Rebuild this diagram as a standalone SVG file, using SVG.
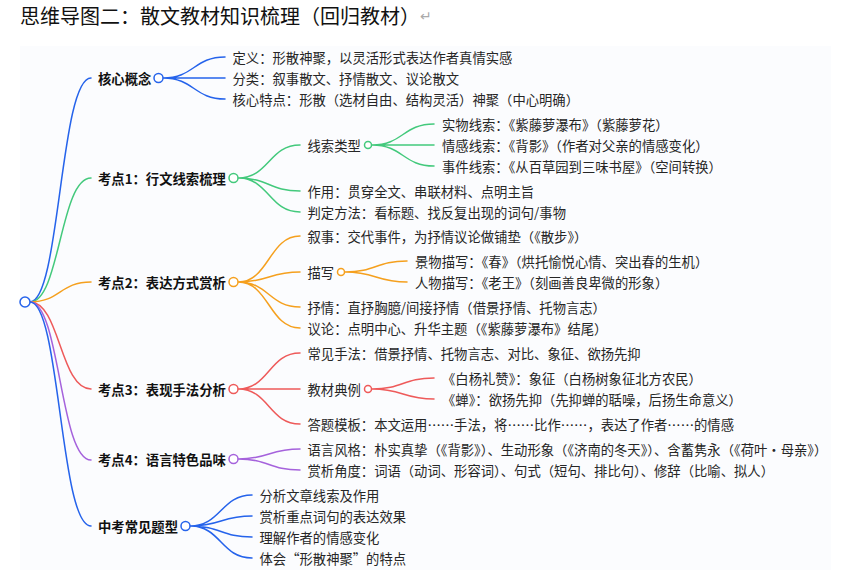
<svg xmlns="http://www.w3.org/2000/svg" width="855" height="580" viewBox="0 0 855 580">
<style>
text{font-family:"Noto Sans CJK SC","Noto Sans",sans-serif;font-size:13.33px;fill:#262626}
.t{font-size:20px;fill:#111}
.r{font-family:"DejaVu Sans",sans-serif;font-size:14px;fill:#aaa}
.b{font-weight:700;fill:#111}
path{fill:none;stroke-width:1.5;stroke-linecap:round}
circle{fill:#fff;stroke-width:1.5}
.bl{stroke:#2563eb}.gr{stroke:#43c97c}.or{stroke:#f5a01e}.re{stroke:#ee5a5a}.pu{stroke:#a562dc}
</style>
<rect x="20" y="46" width="811" height="524" fill="#fbfcfe"/>
<g id="title"><text class="t" x="20" y="24">思维导图二：散文教材知识梳理（回归教材）</text><text class="r" x="420" y="21">↵</text></g>
<g id="connectors">
<path class="bl" d="M30 302C60 302 60 78 91 78"/>
<path class="gr" d="M30 302C60 302 60 178 91 178"/>
<path class="or" d="M30 302C60 302 60 282 91 282"/>
<path class="re" d="M30 302C60 302 60 389 91 389"/>
<path class="pu" d="M30 302C60 302 60 460 91 460"/>
<path class="bl" d="M30 302C60 302 60 526 91 526"/>
<path class="bl" d="M163 78C194 78 194 57 225 57M163 78H225M163 78C194 78 194 99 225 99"/>
<path class="gr" d="M238 178C269 178 269 145 300 145M238 178C269 178 269 191 300 191M238 178C269 178 269 212 300 212"/>
<path class="gr" d="M372 145C403 145 403 124 434 124M372 145H434M372 145C403 145 403 166 434 166"/>
<path class="or" d="M238 282C269 282 269 236 300 236M238 282C269 282 269 272 300 272M238 282C269 282 269 307 300 307M238 282C269 282 269 328 300 328"/>
<path class="or" d="M345 272C376 272 376 261 407 261M345 272C376 272 376 282 407 282"/>
<path class="re" d="M238 389C269 389 269 353 300 353M238 389H300M238 389C269 389 269 424 300 424"/>
<path class="re" d="M372 389C403 389 403 378 434 378M372 389C403 389 403 399 434 399"/>
<path class="pu" d="M238 459C269 459 269 449 300 449M238 459C269 459 269 470 300 470"/>
<path class="bl" d="M190 526C221 526 221 495 252 495M190 526C221 526 221 516 252 516M190 526C221 526 221 537 252 537M190 526C221 526 221 558 252 558"/>
</g>
<g id="root"><circle class="bl" cx="25" cy="302" r="5"/></g>
<g id="n-core"><circle class="bl" cx="158.500" cy="78" r="4.500"/><text class="b" x="98" y="84">核心概念</text></g>
<g id="n-core-1"><text x="232.500" y="63">定义：形散神聚，以灵活形式表达作者真情实感</text></g>
<g id="n-core-2"><text x="232.500" y="84">分类：叙事散文、抒情散文、议论散文</text></g>
<g id="n-core-3"><text x="232.500" y="105">核心特点：形散（选材自由、结构灵活）神聚（中心明确）</text></g>
<g id="n-1"><circle class="gr" cx="233.500" cy="178" r="4.500"/><text class="b" x="98" y="184">考点1：行文线索梳理</text></g>
<g id="n-1-1"><circle class="gr" cx="368" cy="145" r="3.500"/><text x="307.500" y="151">线索类型</text></g>
<g id="n-1-1-1"><text x="442" y="130">实物线索：《紫藤萝瀑布》（紫藤萝花）</text></g>
<g id="n-1-1-2"><text x="442" y="151">情感线索：《背影》（作者对父亲的情感变化）</text></g>
<g id="n-1-1-3"><text x="442" y="171.500">事件线索：《从百草园到三味书屋》（空间转换）</text></g>
<g id="n-1-2"><text x="307.500" y="196.500">作用：贯穿全文、串联材料、点明主旨</text></g>
<g id="n-1-3"><text x="307.500" y="217.500">判定方法：看标题、找反复出现的词句/事物</text></g>
<g id="n-2"><circle class="or" cx="233.500" cy="282" r="4.500"/><text class="b" x="98" y="288">考点2：表达方式赏析</text></g>
<g id="n-2-1"><text x="307.500" y="242">叙事：交代事件，为抒情议论做铺垫（《散步》）</text></g>
<g id="n-2-2"><circle class="or" cx="341" cy="272" r="3.500"/><text x="307.500" y="278">描写</text></g>
<g id="n-2-2-1"><text x="415" y="267">景物描写：《春》（烘托愉悦心情、突出春的生机）</text></g>
<g id="n-2-2-2"><text x="415" y="288">人物描写：《老王》（刻画善良卑微的形象）</text></g>
<g id="n-2-3"><text x="307.500" y="313">抒情：直抒胸臆/间接抒情（借景抒情、托物言志）</text></g>
<g id="n-2-4"><text x="307.500" y="334">议论：点明中心、升华主题（《紫藤萝瀑布》结尾）</text></g>
<g id="n-3"><circle class="re" cx="233.500" cy="389" r="4.500"/><text class="b" x="98" y="395">考点3：表现手法分析</text></g>
<g id="n-3-1"><text x="307.500" y="359">常见手法：借景抒情、托物言志、对比、象征、欲扬先抑</text></g>
<g id="n-3-2"><circle class="re" cx="368" cy="389" r="3.500"/><text x="307.500" y="395">教材典例</text></g>
<g id="n-3-2-1"><text x="442" y="384">《白杨礼赞》：象征（白杨树象征北方农民）</text></g>
<g id="n-3-2-2"><text x="442" y="405">《蝉》：欲扬先抑（先抑蝉的聒噪，后扬生命意义）</text></g>
<g id="n-3-3"><text x="307.500" y="430">答题模板：本文运用……手法，将……比作……，表达了作者……的情感</text></g>
<g id="n-4"><circle class="pu" cx="233.500" cy="459" r="4.500"/><text class="b" x="98" y="465">考点4：语言特色品味</text></g>
<g id="n-4-1"><text x="307.500" y="455">语言风格：朴实真挚（《背影》）、生动形象（《济南的冬天》）、含蓄隽永（《荷叶・母亲》）</text></g>
<g id="n-4-2"><text x="307.500" y="476">赏析角度：词语（动词、形容词）、句式（短句、排比句）、修辞（比喻、拟人）</text></g>
<g id="n-5"><circle class="bl" cx="185.500" cy="526" r="4.500"/><text class="b" x="98" y="531.500">中考常见题型</text></g>
<g id="n-5-1"><text x="259.500" y="500.500">分析文章线索及作用</text></g>
<g id="n-5-2"><text x="259.500" y="521.500">赏析重点词句的表达效果</text></g>
<g id="n-5-3"><text x="259.500" y="542.500">理解作者的情感变化</text></g>
<g id="n-5-4"><text x="259.500" y="563.500">体会“形散神聚”的特点</text></g>
</svg>
